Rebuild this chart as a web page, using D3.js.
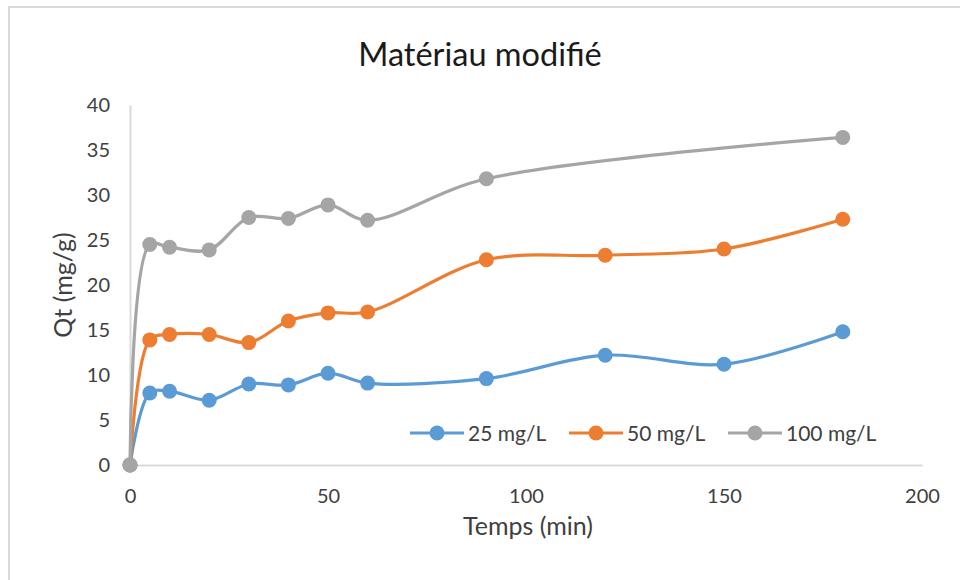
<!DOCTYPE html>
<html>
<head>
<meta charset="utf-8">
<script src="https://cdn.jsdelivr.net/npm/d3@7"></script>
<style>
  body { margin: 0; background: #fff; }
  text { font-family: Lato, "Noto Sans", sans-serif; fill: #404040; }
</style>
</head>
<body>
<div id="chart"></div>
<script>
// temps (min)
var times = [0, 5, 10, 20, 30, 40, 50, 60, 90, 120, 150, 180];
var times100 = [0, 5, 10, 20, 30, 40, 50, 60, 90, 180];

// Qt (mg/g)
var qt25 = [0, 8.0, 8.2, 7.2, 9.0, 8.9, 10.2, 9.1, 9.6, 12.2, 11.2, 14.8];
var qt50 = [0, 13.9, 14.5, 14.5, 13.6, 16.0, 16.9, 17.0, 22.8, 23.3, 24.0, 27.3];
var qt100 = [0, 24.5, 24.2, 23.9, 27.5, 27.4, 28.9, 27.2, 31.8, 36.4];

var seriesNames = ["25 mg/L", "50 mg/L", "100 mg/L"];
var colors = ["#5b9bd5", "#ed7d31", "#a5a5a5"];
var xTicks = [0, 50, 100, 150, 200];
var yTicks = [0, 5, 10, 15, 20, 25, 30, 35, 40];

var w = 960, h = 580;

var svg = d3.select("#chart").append("svg")
  .attr("width", w)
  .attr("height", h);

// chart frame
svg.append("rect")
  .attr("x", 9).attr("y", 7)
  .attr("width", 970).attr("height", 600)
  .attr("fill", "none")
  .attr("stroke", "#d9d9d9")
  .attr("stroke-width", 2);

var xScale = d3.scaleLinear().domain([0, 200]).range([130, 922]);
var yScale = d3.scaleLinear().domain([0, 40]).range([465, 105]);

// axes
var xAxis = d3.axisBottom(xScale).tickValues(xTicks).tickSize(0).tickPadding(24);
var yAxis = d3.axisLeft(yScale).tickValues(yTicks).tickSize(0).tickPadding(20);

var gx = svg.append("g").attr("transform", "translate(0," + yScale(0) + ")").call(xAxis);
var gy = svg.append("g").attr("transform", "translate(" + xScale(0) + ",0)").call(yAxis);

[gx, gy].forEach(function(g) {
  g.select(".domain").attr("stroke", "#d9d9d9").attr("stroke-width", 2);
  g.selectAll("text").attr("font-size", 20).attr("fill", "#404040")
    .style("font-family", "Lato, sans-serif");
});

// title and axis titles
svg.append("text")
  .attr("x", 480).attr("y", 66)
  .attr("text-anchor", "middle")
  .attr("font-size", 32.5)
  .style("fill", "#1a1a1a")
  .text("Matériau modifié");

svg.append("text")
  .attr("x", 528).attr("y", 535)
  .attr("text-anchor", "middle")
  .attr("font-size", 25)
  .text("Temps (min)");

svg.append("text")
  .attr("transform", "translate(72," + 285 + ") rotate(-90)")
  .attr("text-anchor", "middle")
  .attr("font-size", 25)
  .text("Qt (mg/g)");

// series
var series = [
  { name: seriesNames[0], x: times, y: qt25, color: colors[0] },
  { name: seriesNames[1], x: times, y: qt50, color: colors[1] },
  { name: seriesNames[2], x: times100, y: qt100, color: colors[2] }
];

var line = d3.line()
  .x(function(d) { return xScale(d[0]); })
  .y(function(d) { return yScale(d[1]); })
  .curve(d3.curveCatmullRom.alpha(0.5));

series.forEach(function(s) {
  var pts = s.x.map(function(t, i) { return [t, s.y[i]]; });

  svg.append("path")
    .datum(pts)
    .attr("d", line)
    .attr("fill", "none")
    .attr("stroke", s.color)
    .attr("stroke-width", 3.2)
    .attr("stroke-linejoin", "round");

  svg.selectAll(null)
    .data(pts)
    .enter()
    .append("circle")
    .attr("cx", function(d) { return xScale(d[0]); })
    .attr("cy", function(d) { return yScale(d[1]); })
    .attr("r", 7.5)
    .attr("fill", s.color);
});

// legend
var legendX = [410, 569, 728];
var legend = svg.selectAll(".legend")
  .data(series)
  .enter()
  .append("g")
  .attr("class", "legend")
  .attr("transform", function(d, i) { return "translate(" + legendX[i] + ",433)"; });

legend.append("line")
  .attr("x1", 0).attr("x2", 54)
  .attr("stroke", function(d) { return d.color; })
  .attr("stroke-width", 3.2);

legend.append("circle")
  .attr("cx", 27).attr("r", 7.5)
  .attr("fill", function(d) { return d.color; });

legend.append("text")
  .attr("x", 58).attr("y", 7.5)
  .attr("font-size", 21)
  .text(function(d) { return d.name; });
</script>
</body>
</html>
